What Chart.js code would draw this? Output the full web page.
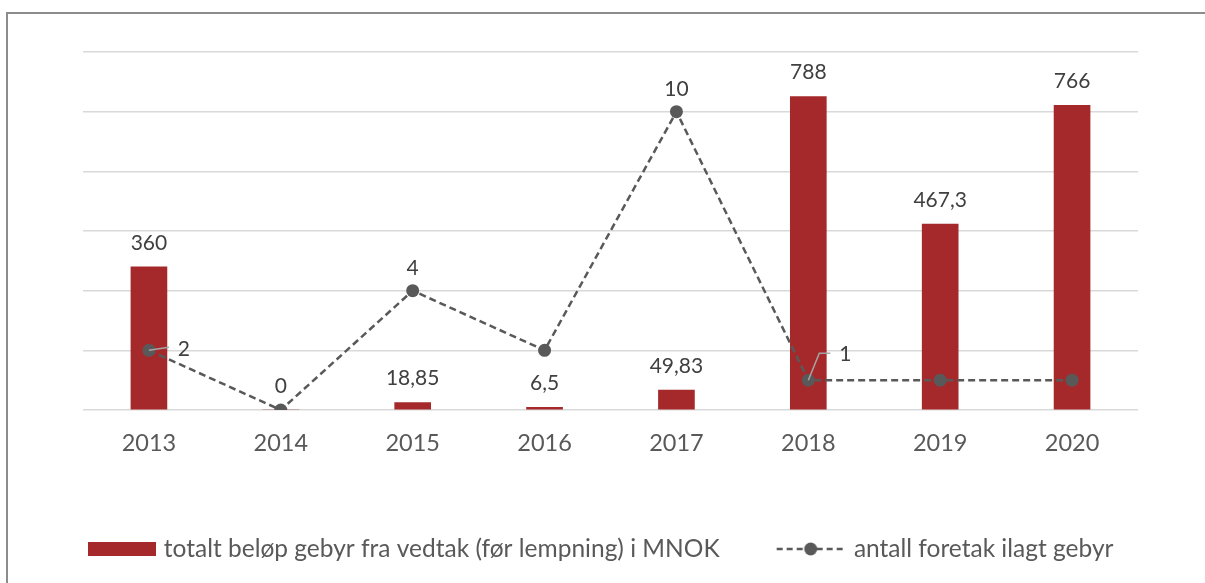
<!DOCTYPE html>
<html>
<head>
<meta charset="utf-8">
<script src="https://cdn.jsdelivr.net/npm/chart.js@4.4.1/dist/chart.umd.min.js"></script>
<style>
  html, body { margin: 0; padding: 0; background: #ffffff; }
  #wrap { position: relative; width: 1205px; height: 583px; }
</style>
</head>
<body>
<div id="wrap"><canvas id="c" width="1205" height="583"></canvas></div>
<script>
// ---- data ----
const categories = ['2013', '2014', '2015', '2016', '2017', '2018', '2019', '2020'];
const feeAmounts = [360, 0, 18.85, 6.5, 49.83, 788, 467.3, 766];
const companyCounts = [2, 0, 4, 2, 10, 1, 1, 1];
const feeLabels = ['360', '0', '18,85', '6,5', '49,83', '788', '467,3', '766'];
const countLabels = ['2', null, '4', null, '10', '1', null, null];
const seriesNames = ['totalt beløp gebyr fra vedtak (før lempning) i MNOK', 'antall foretak ilagt gebyr'];

// ---- styles ----
const BAR_COLOR = '#A5292B';
const LINE_COLOR = '#595959';
const FONT = 'Lato, "Open Sans", sans-serif';

// legend images
function makeBarSwatch() {
  const cv = document.createElement('canvas');
  cv.width = 68; cv.height = 14;
  const g = cv.getContext('2d');
  g.fillStyle = BAR_COLOR; g.fillRect(0, 0, 68, 14);
  return cv;
}
function makeLineSwatch() {
  const cv = document.createElement('canvas');
  cv.width = 72; cv.height = 16;
  const g = cv.getContext('2d');
  g.strokeStyle = LINE_COLOR; g.lineWidth = 2.5; g.setLineDash([6, 4]);
  g.beginPath(); g.moveTo(1, 8); g.lineTo(71, 8); g.stroke();
  g.setLineDash([]);
  g.fillStyle = LINE_COLOR; g.beginPath(); g.arc(35, 8, 6.5, 0, Math.PI * 2); g.fill();
  return cv;
}
const swatches = [makeBarSwatch(), makeLineSwatch()];

const frame = {
  id: 'frame',
  beforeDraw(chart) {
    const ctx = chart.ctx;
    ctx.save();
    ctx.fillStyle = '#ffffff';
    ctx.fillRect(0, 0, chart.width, chart.height);
    ctx.strokeStyle = '#8c8c8c';
    ctx.lineWidth = 2;
    ctx.beginPath();
    ctx.moveTo(7, chart.height + 2);
    ctx.lineTo(7, 13);
    ctx.lineTo(chart.width + 2, 13);
    ctx.stroke();
    ctx.restore();
  }
};

const valueLabels = {
  id: 'valueLabels',
  afterDatasetsDraw(chart, args, opts) {
    const ctx = chart.ctx;
    ctx.save();
    ctx.font = '21px ' + FONT;
    ctx.fillStyle = '#404040';
    ctx.textAlign = 'center';
    ctx.textBaseline = 'middle';
    // bar labels
    const barMeta = chart.getDatasetMeta(0);
    barMeta.data.forEach((el, i) => {
      const t = feeLabels[i];
      if (t == null) return;
      ctx.fillText(t, el.x, el.y - 24);
    });
    // line labels
    const lineMeta = chart.getDatasetMeta(1);
    lineMeta.data.forEach((el, i) => {
      const t = countLabels[i];
      if (t == null) return;
      const p = opts.placements[i] || {dx: 0, dy: -22};
      if (p.leader) {
        ctx.strokeStyle = '#A6A6A6';
        ctx.lineWidth = 1.5;
        ctx.beginPath();
        ctx.moveTo(el.x, el.y);
        p.leader.forEach(pt => ctx.lineTo(el.x + pt[0], el.y + pt[1]));
        ctx.stroke();
      }
      ctx.fillStyle = '#404040';
      ctx.fillText(t, el.x + p.dx, el.y + p.dy);
    });
    ctx.restore();
  }
};

new Chart(document.getElementById('c'), {
  type: 'bar',
  data: {
    labels: categories,
    datasets: [
      {
        type: 'bar',
        label: seriesNames[0],
        data: feeAmounts,
        backgroundColor: BAR_COLOR,
        barThickness: 36,
        yAxisID: 'y',
        order: 2
      },
      {
        type: 'line',
        label: seriesNames[1],
        data: companyCounts,
        borderColor: LINE_COLOR,
        backgroundColor: LINE_COLOR,
        borderWidth: 2.5,
        borderDash: [7, 4],
        pointRadius: 6.5,
        pointBorderWidth: 0,
        pointBackgroundColor: LINE_COLOR,
        tension: 0,
        yAxisID: 'y1',
        order: 1
      }
    ]
  },
  options: {
    responsive: false,
    animation: false,
    devicePixelRatio: 1,
    layout: { padding: { top: 52, bottom: 11.75, left: 0, right: 0 } },
    scales: {
      x: {
        grid: { display: false, drawTicks: false },
        border: { display: false },
        ticks: { color: '#595959', font: { family: FONT, size: 23.5 }, padding: 19 },
        afterFit(a) { a.height = 64.75; }
      },
      y: {
        position: 'left',
        min: 0, max: 900,
        ticks: { display: false, stepSize: 150 },
        grid: { color: '#D9D9D9', lineWidth: 1.5, drawTicks: false },
        border: { display: false },
        afterFit(a) { a.width = 83; }
      },
      y1: {
        position: 'right',
        min: 0, max: 12,
        ticks: { display: false },
        grid: { display: false, drawTicks: false },
        border: { display: false },
        afterFit(a) { a.width = 67; }
      }
    },
    plugins: {
      tooltip: { enabled: false },
      legend: {
        position: 'bottom',
        labels: {
          usePointStyle: true,
          pointStyleWidth: 60,
          padding: 62,
          color: '#595959',
          font: { family: FONT, size: 24.5 },
          generateLabels(chart) {
            return chart.data.datasets.map((ds, i) => ({
              text: ds.label,
              pointStyle: swatches[i],
              fillStyle: 'transparent',
              strokeStyle: 'transparent',
              lineWidth: 0,
              fontColor: '#595959',
              datasetIndex: i,
              hidden: false
            }));
          }
        }
      },
      valueLabels: {
        placements: {
          0: { dx: 35, dy: -1, leader: [[20, -3]] },
          5: { dx: 37, dy: -26, leader: [[11, -27], [22, -27]] }
        }
      }
    }
  },
  plugins: [frame, valueLabels]
});
</script>
</body>
</html>
